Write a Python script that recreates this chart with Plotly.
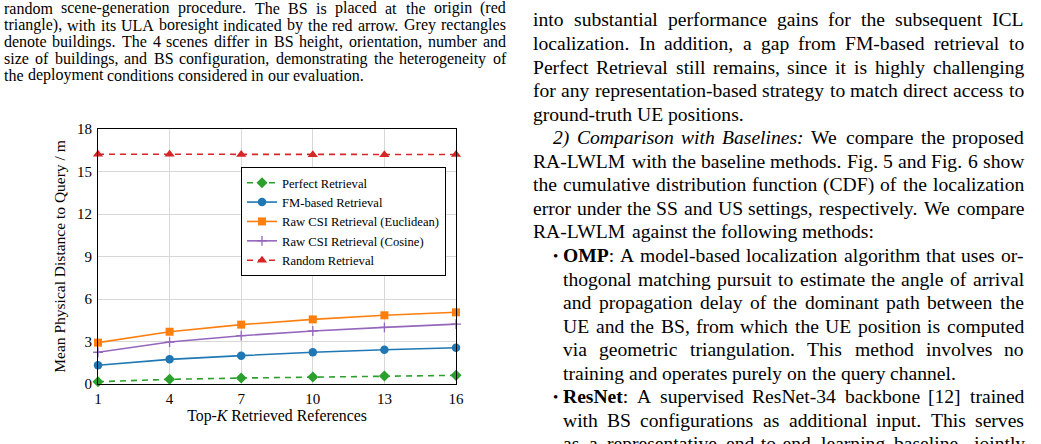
import plotly.graph_objects as go

# ---------------- chart data ----------------
K = [1, 4, 7, 10, 13, 16]
perfect = [0.16, 0.33, 0.42, 0.49, 0.56, 0.61]
fm_based = [1.32, 1.74, 2.00, 2.24, 2.42, 2.56]
raw_euclid = [2.92, 3.69, 4.19, 4.56, 4.85, 5.06]
raw_cosine = [2.24, 2.96, 3.41, 3.74, 4.00, 4.23]
random_ret = [16.22, 16.21, 16.20, 16.19, 16.19, 16.20]
x_ticks = [1, 4, 7, 10, 13, 16]
y_ticks = [0, 3, 6, 9, 12, 15, 18]
series_names = ["Perfect Retrieval", "FM-based Retrieval", "Raw CSI Retrieval (Euclidean)",
                "Raw CSI Retrieval (Cosine)", "Random Retrieval"]

# ---------------- surrounding page text ----------------
left_lines = [
    "random scene-generation procedure. The BS is placed at the origin (red",
    "triangle), with its ULA boresight indicated by the red arrow. Grey rectangles",
    "denote buildings. The 4 scenes differ in BS height, orientation, number and",
    "size of buildings, and BS configuration, demonstrating the heterogeneity of",
    "the deployment conditions considered in our evaluation.",
]
left_justify = [True, True, True, True, False]

right_lines = [
    "into substantial performance gains for the subsequent ICL",
    "localization. In addition, a gap from FM-based retrieval to",
    "Perfect Retrieval still remains, since it is highly challenging",
    "for any representation-based strategy to match direct access to",
    "ground-truth UE positions.",
    "<i>2)</i> <i>Comparison</i> <i>with</i> <i>Baselines:</i> We compare the proposed",
    "RA-LWLM with the baseline methods. Fig. 5 and Fig. 6 show",
    "the cumulative distribution function (CDF) of the localization",
    "error under the SS and US settings, respectively. We compare",
    "RA-LWLM against the following methods:",
    "<b>OMP</b>: A model-based localization algorithm that uses or-",
    "thogonal matching pursuit to estimate the angle of arrival",
    "and propagation delay of the dominant path between the",
    "UE and the BS, from which the UE position is computed",
    "via geometric triangulation. This method involves no",
    "training and operates purely on the query channel.",
    "<b>ResNet</b>: A supervised ResNet-34 backbone [12] trained",
    "with BS configurations as additional input. This serves",
    "as a representative end-to-end learning baseline, jointly",
]
right_justify = [True, True, True, True, False, True, True, True, True, False,
                 True, True, True, True, True, False, True, True, True]
right_indent = [0, 0, 0, 0, 0, 20, 0, 0, 0, 0, 30, 30, 30, 30, 30, 30, 30, 30, 30]
bullet_rows = [10, 16]

FONT = "Liberation Serif"

# ---------------- layout geometry (pixels) ----------------
W, H = 1041, 444
PL, PR, PT, PB = 98, 456, 129, 384
PW, PH = PR - PL, PB - PT


def px(x):
    return (x - PL) / PW


def py(y):
    return 1 - (y - PT) / PH


# Times metrics (per 1000 em)
REG = {' ': 250, '!': 333, "'": 333, '(': 333, ')': 333, ',': 250, '-': 333, '.': 250, '/': 278,
       ':': 278, ';': 278, '[': 333, ']': 333, '•': 350}
for ch in '0123456789':
    REG[ch] = 500
REG.update(dict(zip('ABCDEFGHIJKLMNOPQRSTUVWXYZ',
                    [722, 667, 667, 722, 611, 556, 722, 722, 333, 389, 722, 611, 889, 722, 722, 556,
                     722, 667, 556, 611, 722, 722, 944, 722, 722, 611])))
REG.update(dict(zip('abcdefghijklmnopqrstuvwxyz',
                    [444, 500, 444, 500, 444, 333, 500, 500, 278, 278, 500, 278, 778, 500, 500, 500,
                     500, 333, 389, 278, 500, 500, 722, 500, 500, 444])))
BOLD = dict(REG)
BOLD.update({'O': 778, 'M': 944, 'P': 611, 'R': 722, 'N': 722, 't': 333, 'e': 444, 's': 389, ':': 333})
ITAL = dict(REG)
ITAL.update({'C': 667, 'm': 722, 'a': 500, 'r': 389, 'w': 667, 'B': 611, ':': 333, 'o': 500,
             'p': 500, 'i': 278, 's': 389, 'n': 500, 't': 278, 'h': 500, 'l': 278, 'e': 444})


def word_width(word, size):
    total = 0
    style = REG
    i = 0
    while i < len(word):
        if word.startswith('<b>', i):
            style = BOLD; i += 3; continue
        if word.startswith('<i>', i):
            style = ITAL; i += 3; continue
        if word.startswith('</b>', i) or word.startswith('</i>', i):
            style = REG; i += 4; continue
        total += style.get(word[i], 500)
        i += 1
    return total * size / 1000.0


annotations = []


def add_line(text, yc, x0, x1, size, justify):
    words = text.split(' ')
    widths = [word_width(w, size) for w in words]
    n = len(words) - 1
    space = 250 * size / 1000.0
    if justify and n > 0:
        gap = (x1 - x0 - sum(widths)) / n
    else:
        gap = space
    x = x0
    for w, wd in zip(words, widths):
        annotations.append(dict(x=px(x), y=py(yc), xref="paper", yref="paper", text=w,
                                showarrow=False, xanchor="left", yanchor="middle",
                                borderpad=0, font=dict(family=FONT, size=size, color="black")))
        x += wd + gap


# left caption column
LEFT_X0, LEFT_X1 = 3, 505
for i, (t, j) in enumerate(zip(left_lines, left_justify)):
    add_line(t, 8.5 + i * 16.7, LEFT_X0, LEFT_X1, 16, j)

# right body column
RIGHT_X0, RIGHT_X1 = 532, 1023
for i, (t, j, ind) in enumerate(zip(right_lines, right_justify, right_indent)):
    yc = 20 + i * 23.55
    add_line(t, yc, RIGHT_X0 + ind, RIGHT_X1, 19.6, j)
    if i in bullet_rows:
        annotations.append(dict(x=px(RIGHT_X0 + 20), y=py(yc), xref="paper", yref="paper",
                                text="•", showarrow=False, xanchor="left", yanchor="middle",
                                borderpad=0, font=dict(family=FONT, size=15, color="black")))

# ---------------- traces ----------------
fig = go.Figure()
fig.add_trace(go.Scatter(x=K, y=perfect, name=series_names[0], mode="lines+markers",
                         line=dict(color="#2ca02c", width=1.6, dash="6px,5px"),
                         marker=dict(symbol="diamond", size=8.5, color="#2ca02c"), cliponaxis=False))
fig.add_trace(go.Scatter(x=K, y=fm_based, name=series_names[1], mode="lines+markers",
                         line=dict(color="#1f77b4", width=1.6),
                         marker=dict(symbol="circle", size=8.5, color="#1f77b4"), cliponaxis=False))
fig.add_trace(go.Scatter(x=K, y=raw_euclid, name=series_names[2], mode="lines+markers",
                         line=dict(color="#ff7f0e", width=1.6),
                         marker=dict(symbol="square", size=8, color="#ff7f0e"), cliponaxis=False))
fig.add_trace(go.Scatter(x=K, y=raw_cosine, name=series_names[3], mode="lines+markers",
                         line=dict(color="#9467bd", width=1.6),
                         marker=dict(symbol="cross-thin", size=7, color="#9467bd",
                                     line=dict(color="#9467bd", width=1.3)), cliponaxis=False))
fig.add_trace(go.Scatter(x=K, y=random_ret, name=series_names[4], mode="lines+markers",
                         line=dict(color="#d62728", width=1.6, dash="6px,5px"),
                         marker=dict(symbol="triangle-up", size=9, color="#d62728"), cliponaxis=False))

axis_common = dict(showgrid=True, gridcolor="#d8d8d8", gridwidth=1, showline=True,
                   linecolor="black", linewidth=1, mirror=True, zeroline=False,
                   ticks="outside", tickcolor="rgba(0,0,0,0)",
                   tickfont=dict(family=FONT, size=15, color="black"))

fig.update_layout(
    width=W, height=H,
    margin=dict(l=PL, r=W - PR, t=PT, b=H - PB, pad=0),
    paper_bgcolor="white", plot_bgcolor="white",
    font=dict(family=FONT, color="black"),
    xaxis=dict(range=[1, 16], tickvals=x_ticks, ticktext=[str(v) for v in x_ticks], ticklen=1,
               title=dict(text="Top-<i>K</i> Retrieved References", standoff=1,
                          font=dict(family=FONT, size=15.8, color="black")),
               **axis_common),
    yaxis=dict(range=[0, 18], tickvals=y_ticks, ticktext=[str(v) for v in y_ticks], ticklen=2,
               title=dict(text="Mean Physical Distance to Query / m", standoff=7,
                          font=dict(family=FONT, size=15.5, color="black")),
               **axis_common),
    legend=dict(x=px(241), y=py(167), xanchor="left", yanchor="top",
                bgcolor="white", bordercolor="black", borderwidth=1,
                font=dict(family=FONT, size=12.6, color="black"),
                itemwidth=30, tracegroupgap=0),
    showlegend=True,
    annotations=annotations,
)

fig.write_html("out.html")
